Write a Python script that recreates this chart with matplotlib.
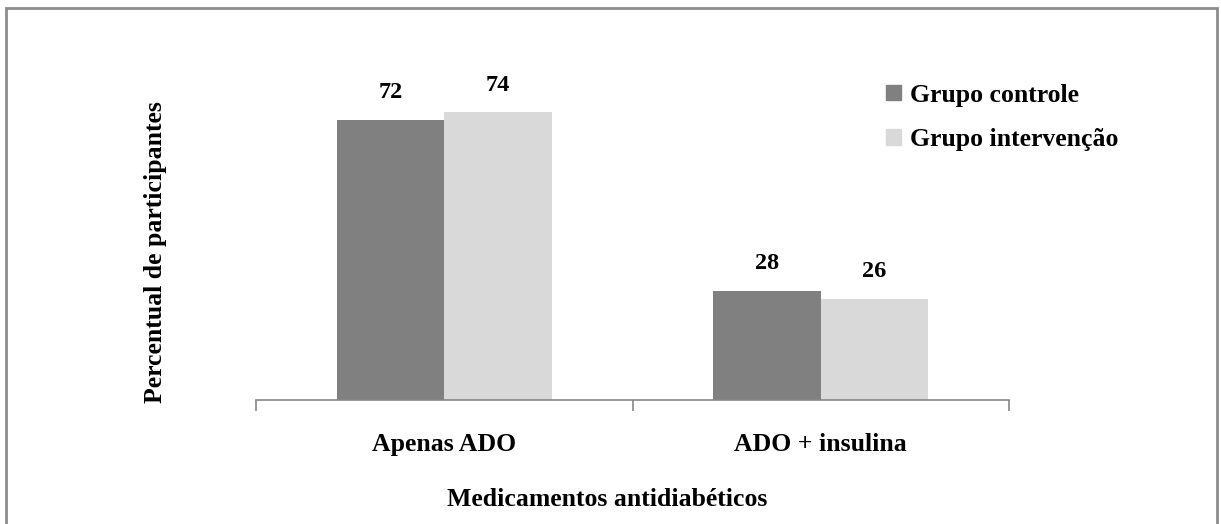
import matplotlib
matplotlib.use("Agg")
import matplotlib.pyplot as plt
from matplotlib.patches import Patch, Rectangle

categories = ["Apenas ADO", "ADO + insulina"]
series_names = ["Grupo controle", "Grupo intervenção"]
controle = [72, 28]
intervencao = [74, 26]

DARK = "#808080"
LIGHT = "#d9d9d9"
AXIS_GRAY = "#868686"
SERIF = ["Liberation Serif", "DejaVu Serif"]

plt.rcParams["font.family"] = SERIF
plt.rcParams["font.weight"] = "bold"

fig = plt.figure(figsize=(12.21, 5.24), dpi=100)
ax = fig.add_axes([0.2097, 0.2366, 0.6167, 0.5937])

width = 0.285
xs = list(range(len(categories)))
bars_c = ax.bar([x - width / 2 for x in xs], controle, width, color=DARK, label=series_names[0])
bars_i = ax.bar([x + width / 2 for x in xs], intervencao, width, color=LIGHT, label=series_names[1])

for bars, vals in ((bars_c, controle), (bars_i, intervencao)):
    for b, v in zip(bars, vals):
        ax.annotate(str(v), (b.get_x() + b.get_width() / 2, v), xytext=(0, 12),
                    textcoords="offset points", ha="center", va="bottom",
                    fontsize=17.5, fontweight="bold")

ax.set_xlim(-0.5, len(categories) - 0.5)
ax.set_ylim(0, 80)
for side in ("left", "right", "top"):
    ax.spines[side].set_visible(False)
ax.spines["bottom"].set_color(AXIS_GRAY)
ax.spines["bottom"].set_linewidth(1.2)
ax.set_yticks([])
ax.set_xticks(xs)
ax.set_xticklabels(categories, fontsize=18.5, fontweight="bold")
ax.tick_params(axis="x", which="major", length=0, pad=24)
ax.set_xticks([-0.5, 0.5, 1.5], minor=True)
ax.tick_params(axis="x", which="minor", length=8, width=1.2, color=AXIS_GRAY, direction="out")

fig.text(0.497, 0.046, "Medicamentos antidiabéticos", ha="center", va="center",
         fontsize=18.5, fontweight="bold")
fig.text(0.127, 0.519, "Percentual de participantes", ha="center", va="center",
         rotation=90, fontsize=18.5, fontweight="bold")

handles = [Patch(color=DARK), Patch(color=LIGHT)]
fig.legend(handles, series_names, loc="upper left", bbox_to_anchor=(0.726, 0.84),
           bbox_transform=fig.transFigure, frameon=False, fontsize=18.5,
           handlelength=0.55, handleheight=0.55, handletextpad=0.35,
           labelspacing=0.82, borderaxespad=0, borderpad=0)

# outer frame around the whole chart
fig.add_artist(Rectangle((0.005, -0.02), 0.992, 1.004, transform=fig.transFigure,
                         fill=False, edgecolor="#8c8c8c", linewidth=2))

fig.savefig("out.png", dpi=100)
